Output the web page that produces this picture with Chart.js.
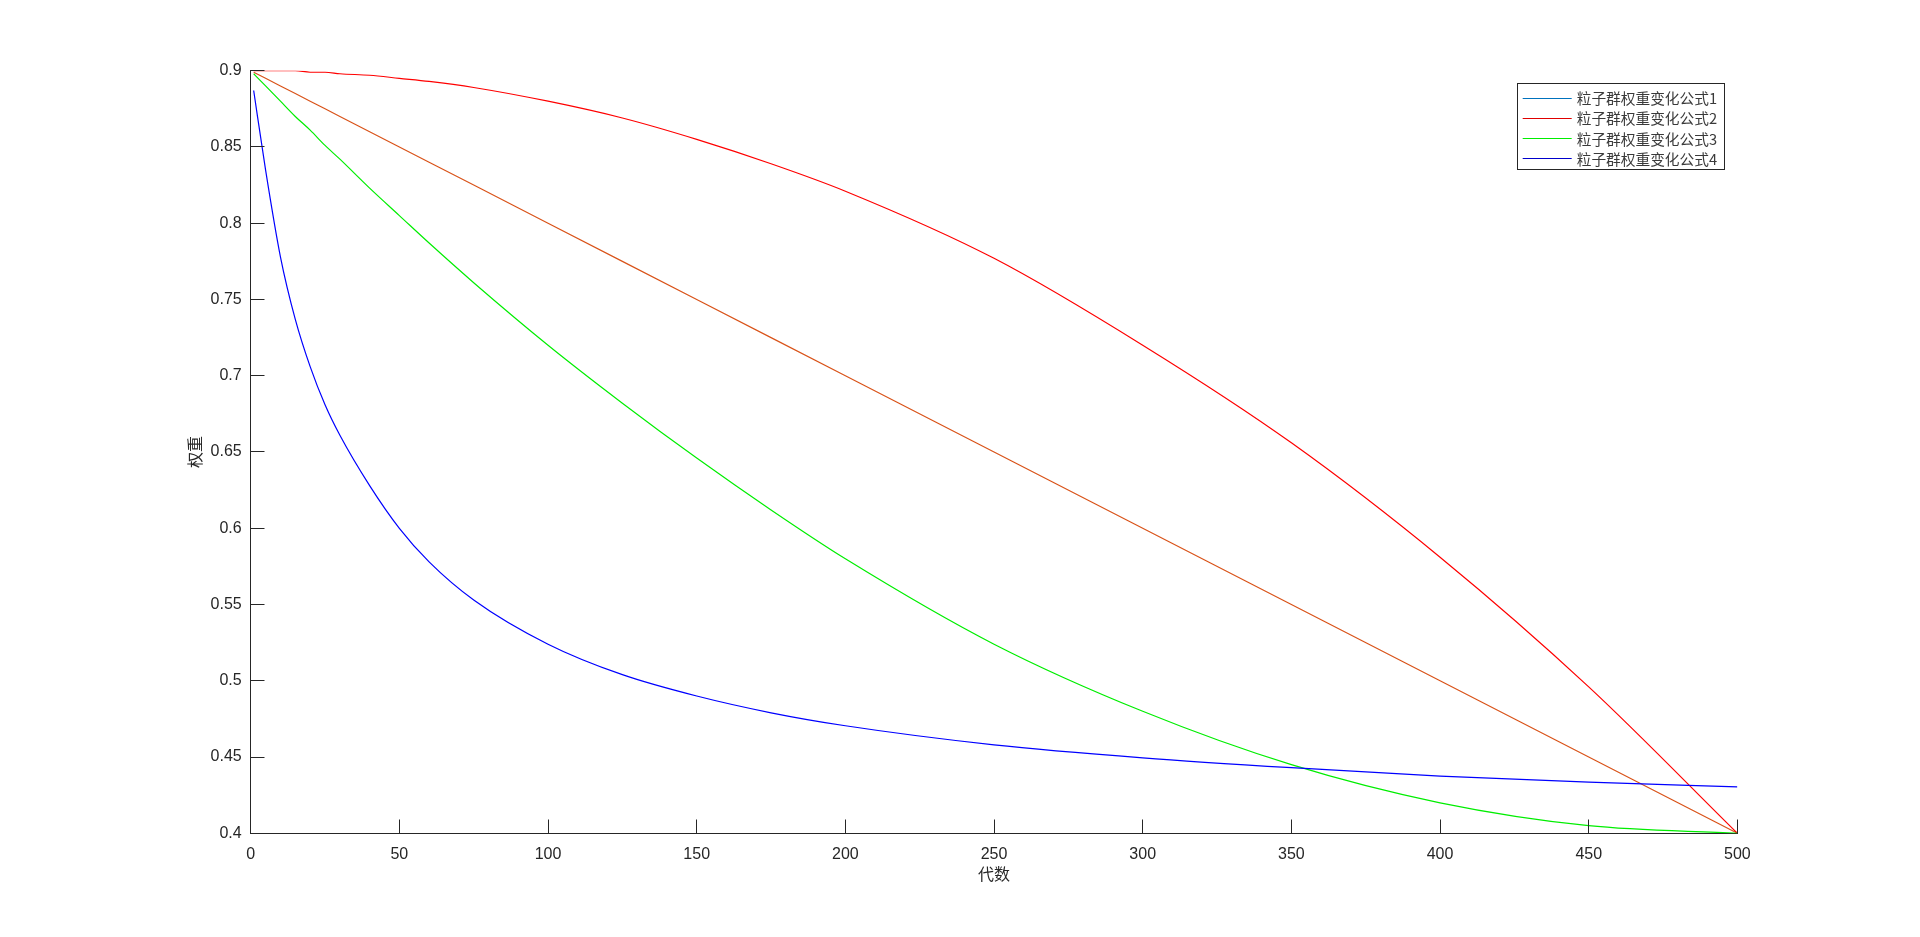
<!DOCTYPE html>
<html>
<head>
<meta charset="utf-8">
<script src="https://cdn.jsdelivr.net/npm/chart.js@4.4.1/dist/chart.umd.min.js"></script>
<style>
  html, body { margin: 0; padding: 0; background: #fff; }
  canvas { display: block; }
</style>
</head>
<body>
<canvas id="c" width="1920" height="937"></canvas>
<script>
const generations = [1, 5, 10, 15, 20, 25, 30, 40, 50, 60, 75, 100, 125, 150, 175, 200, 250, 300, 350, 400, 450, 500];
const weight1 = [0.899, 0.895, 0.890, 0.885, 0.880, 0.875, 0.870, 0.860, 0.850, 0.840, 0.825, 0.800, 0.775, 0.750, 0.725, 0.700, 0.650, 0.600, 0.550, 0.500, 0.450, 0.400];
const weight2 = [0.900, 0.900, 0.900, 0.900, 0.899, 0.899, 0.898, 0.897, 0.895, 0.893, 0.889, 0.880, 0.869, 0.855, 0.839, 0.821, 0.777, 0.720, 0.656, 0.581, 0.496, 0.400];
const weight3 = [0.898, 0.890, 0.880, 0.870, 0.861, 0.851, 0.842, 0.823, 0.805, 0.787, 0.761, 0.720, 0.682, 0.646, 0.612, 0.580, 0.524, 0.480, 0.445, 0.420, 0.405, 0.400];
const weight4 = [0.887, 0.835, 0.778, 0.737, 0.706, 0.681, 0.661, 0.628, 0.600, 0.578, 0.553, 0.524, 0.504, 0.490, 0.479, 0.4705, 0.458, 0.4495, 0.4430, 0.4375, 0.4335, 0.4304];
const seriesNames = ["粒子群权重变化公式1", "粒子群权重变化公式2", "粒子群权重变化公式3", "粒子群权重变化公式4"];
const xTitle = "代数";
const yTitle = "权重";

// MATLAB-ish look
const AX = "#262626";
const LINE_COLORS = ["#D95319", "#ff0000", "#00ee00", "#0000ff"];
const LEGEND_COLORS = ["#0072BD", "#e00000", "#00ee00", "#0000cc"];
const TICK_FONT = { family: "'Liberation Sans', Arial, sans-serif", size: 16 };
const CJK = "'Noto Sans CJK SC', sans-serif";

// plot box in page pixels
const BOX = { left: 250.7, right: 1737.4, top: 70.7, bottom: 833.3 };

const pts = (ys) => generations.map((g, i) => ({ x: g, y: ys[i] }));
const mk = (i, ys, smooth) => ({
  label: seriesNames[i], data: pts(ys),
  borderColor: LINE_COLORS[i], backgroundColor: LINE_COLORS[i],
  borderWidth: 1.2, pointRadius: 0, fill: false,
  tension: smooth ? 0.4 : 0, cubicInterpolationMode: smooth ? "monotone" : "default",
  order: 4 - i,
});
const crisp = (p) => Math.round(p + 0.5) - 0.5;

// inward ticks, axis titles and the boxed legend (drawn by hand like MATLAB)
const matlabBits = {
  id: "matlabBits",
  afterDraw(chart) {
    const ctx = chart.ctx, a = chart.chartArea;
    const xs = chart.scales.x, ys = chart.scales.y;
    const left = crisp(a.left), bottom = crisp(a.bottom);
    ctx.save();
    ctx.strokeStyle = AX; ctx.lineWidth = 1;
    xs.ticks.forEach((t) => {
      const px = crisp(xs.getPixelForValue(t.value));
      ctx.beginPath(); ctx.moveTo(px, bottom); ctx.lineTo(px, bottom - 14); ctx.stroke();
    });
    ys.ticks.forEach((t) => {
      const py = crisp(ys.getPixelForValue(t.value));
      ctx.beginPath(); ctx.moveTo(left, py); ctx.lineTo(left + 14, py); ctx.stroke();
    });

    ctx.fillStyle = AX;
    ctx.font = `16px ${CJK}`;
    ctx.textAlign = "center"; ctx.textBaseline = "middle";
    ctx.fillText(xTitle, (a.left + a.right) / 2, 873.5);
    ctx.translate(195, (a.top + a.bottom) / 2);
    ctx.rotate(-Math.PI / 2);
    ctx.fillText(yTitle, 0, 0);
    ctx.setTransform(1, 0, 0, 1, 0, 0);

    // legend
    const L = { x: 1517.5, y: 83.5, w: 207, h: 86 };
    ctx.fillStyle = "#fff"; ctx.fillRect(L.x, L.y, L.w, L.h);
    ctx.strokeStyle = AX; ctx.strokeRect(L.x, L.y, L.w, L.h);
    ctx.font = `14.7px ${CJK}`;
    ctx.textAlign = "left"; ctx.textBaseline = "middle";
    chart.data.datasets.forEach((ds, i) => {
      const ry = 97.5 + i * 20.3;
      ctx.strokeStyle = LEGEND_COLORS[i]; ctx.lineWidth = 1;
      ctx.beginPath(); ctx.moveTo(1522.7, Math.round(ry) + 0.5); ctx.lineTo(1571.7, Math.round(ry) + 0.5); ctx.stroke();
      ctx.fillStyle = "#3a3a3a";
      ctx.fillText(ds.label, 1576.7, ry + 1);
    });
    ctx.restore();
  },
};

const fmt = (v) => String(Number(Number(v).toFixed(2)));

new Chart(document.getElementById("c"), {
  type: "line",
  data: {
    datasets: [mk(0, weight1, false), mk(1, weight2, true), mk(2, weight3, true), mk(3, weight4, true)],
  },
  options: {
    responsive: false, animation: false, devicePixelRatio: 1,
    layout: { padding: { left: 0, top: BOX.top, right: 1920 - BOX.right, bottom: 0 } },
    plugins: { legend: { display: false }, tooltip: { enabled: false } },
    scales: {
      x: {
        type: "linear", min: 0, max: 500,
        grid: { display: false, drawTicks: false },
        border: { display: true, color: AX, width: 1 },
        ticks: { stepSize: 50, color: AX, font: TICK_FONT, padding: 11.5, maxRotation: 0, callback: fmt },
        afterFit: (s) => { s.height = 937 - BOX.bottom; },
      },
      y: {
        type: "linear", min: 0.4, max: 0.9,
        grid: { display: false, drawTicks: false },
        border: { display: true, color: AX, width: 1 },
        ticks: { stepSize: 0.05, color: AX, font: TICK_FONT, padding: 9, callback: fmt },
        afterFit: (s) => { s.width = BOX.left; },
      },
    },
  },
  plugins: [matlabBits],
});
</script>
</body>
</html>
